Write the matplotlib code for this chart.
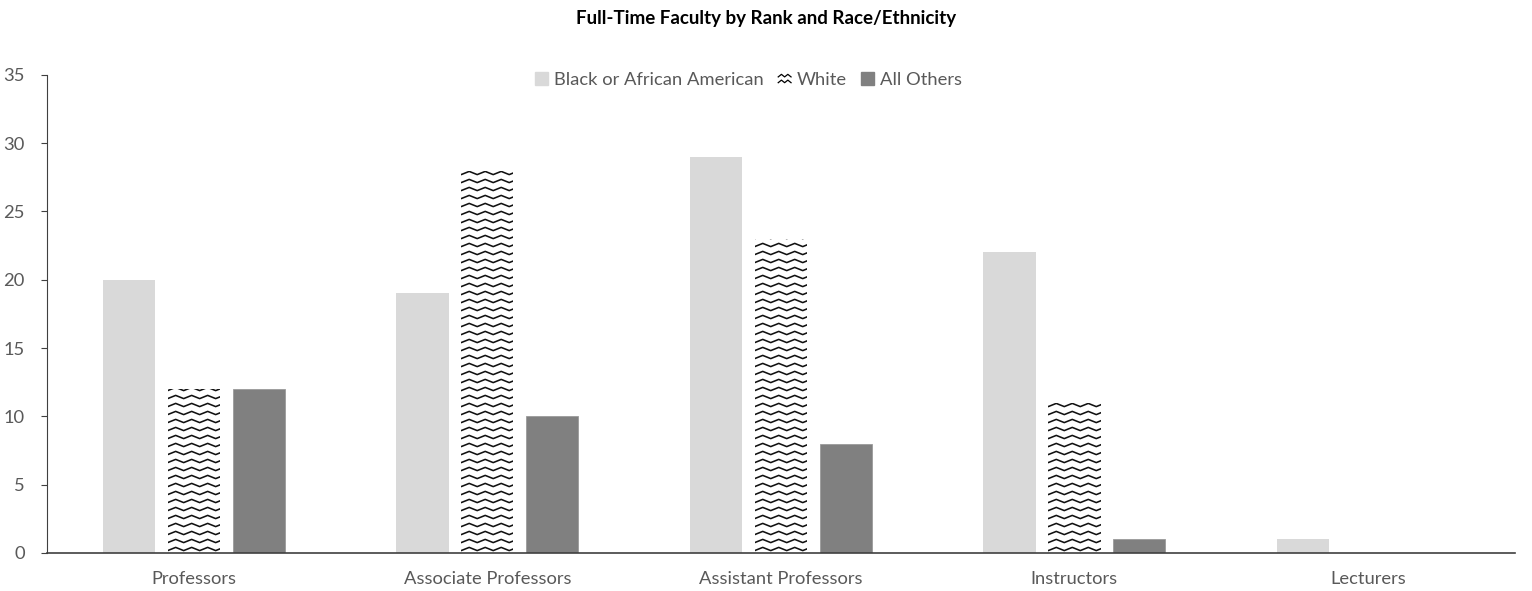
import matplotlib.pyplot as plt
import numpy as np
from matplotlib.patches import Rectangle
from matplotlib.lines import Line2D
from matplotlib.legend_handler import HandlerBase
from matplotlib.transforms import IdentityTransform

plt.rcParams['font.family'] = ['Lato', 'DejaVu Sans']

ranks = ["Professors", "Associate Professors", "Assistant Professors", "Instructors", "Lecturers"]
black = [20, 19, 29, 22, 1]
white = [12, 28, 23, 11, 0]
others = [12, 10, 8, 1, 0]
series = ["Black or African American", "White", "All Others"]

LIGHT = "#d9d9d9"
DARK = "#808080"
TXT = "#595959"
FS = 13.2

fig = plt.figure(figsize=(15.32, 5.91), dpi=100)
ax = fig.add_axes([0.0307, 0.0643, 0.958, 0.809])

x = np.arange(len(ranks))
step = 0.221
w = 0.178
b1 = ax.bar(x - step, black, w, color=LIGHT)
b2 = ax.bar(x, white, w, color="white")
b3 = ax.bar(x + step, others, w, color=DARK, edgecolor="#9a9a9a", linewidth=0.6)

ax.set_xlim(-0.5, len(ranks) - 0.5)
ax.set_ylim(0, 35)
ax.set_yticks(range(0, 36, 5))
ax.set_xticks(x)
ax.set_xticklabels(ranks)
ax.tick_params(axis="x", length=0, pad=13, labelsize=FS, labelcolor=TXT)
ax.tick_params(axis="y", length=4, direction="out", pad=12, labelsize=FS, labelcolor=TXT, color="#404040")
for s in ["top", "right"]:
    ax.spines[s].set_visible(False)
ax.spines["left"].set_color("#404040")
ax.spines["bottom"].set_color("#404040")
ax.spines["bottom"].set_linewidth(1.2)

fig.text(0.5, 0.968, "Full-Time Faculty by Rank and Race/Ethnicity", ha="center", va="center",
         fontsize=13.5, fontweight="bold")


def zigzag(x0, x1, y0, y1, period=16.0, amp=3.2, gap=8.0):
    segs = []
    y = y0 + gap / 2
    while y < y1 + gap:
        xs = np.arange(x0 - period, x1 + period, period / 2)
        ys = y + amp * (np.arange(len(xs)) % 2) - amp / 2
        segs.append((xs, ys))
        y += gap
    return segs


fig.canvas.draw()
for bar in b2:
    if bar.get_height() <= 0:
        continue
    (px0, py0), (px1, py1) = ax.transData.transform(
        [(bar.get_x(), 0), (bar.get_x() + bar.get_width(), bar.get_height())])
    for xs, ys in zigzag(px0, px1, py0, py1):
        ln = Line2D(xs, ys, transform=IdentityTransform(), color="#111111", lw=1.15)
        ax.add_artist(ln)
        ln.set_clip_box(None)
        ln.set_clip_path(bar)


class ZigzagHandler(HandlerBase):
    def create_artists(self, legend, orig, xd, yd, width, height, fontsize, trans):
        arts = []
        for yy in [0.2, 0.65]:
            xs = np.linspace(0, width, 5)
            ys = yy * height + (np.arange(5) % 2) * height * 0.2
            arts.append(Line2D(xs, ys, color="black", lw=0.9, transform=trans))
        return arts


handles = [Rectangle((0, 0), 1, 1, color=LIGHT), Rectangle((0, 0), 1, 1, color="white"),
           Rectangle((0, 0), 1, 1, color=DARK)]
ax.legend(handles, series, loc="upper center", bbox_to_anchor=(0.478, 1.04), ncol=3, frameon=False,
          fontsize=FS, labelcolor=TXT, handlelength=0.7, handleheight=0.7, handletextpad=0.3,
          columnspacing=0.8, handler_map={handles[1]: ZigzagHandler()})

fig.savefig("out.png", dpi=100)
